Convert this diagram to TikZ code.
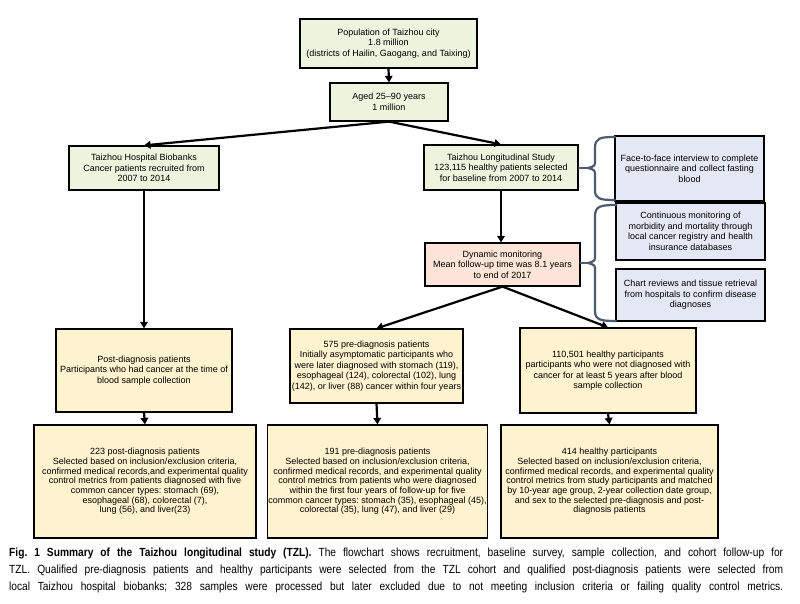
\documentclass[tikz,border=0pt]{standalone}
\usepackage{fontspec}
\setmainfont{Liberation Sans}
\newfontfamily\capfont[FakeStretch=0.865]{Liberation Sans}
\usetikzlibrary{arrows.meta}
\definecolor{gfill}{RGB}{236,244,221}
\definecolor{bfill}{RGB}{228,232,245}
\definecolor{pfill}{RGB}{252,229,215}
\definecolor{yfill}{RGB}{255,242,206}
\definecolor{bracecol}{RGB}{78,90,112}
\frenchspacing
\begin{document}
\begin{tikzpicture}[x=1pt,y=-1pt,
  box/.style={draw=black, line width=1.2pt, inner sep=1pt, align=center,
    font=\fontsize{9}{10.5}\selectfont},
  gbox/.style={box, fill=gfill},
  bbox/.style={box, fill=bfill},
  pbox/.style={box, fill=pfill},
  ybox/.style={box, fill=yfill},
  lbox/.style={box, fill=yfill, font=\fontsize{9}{9.7}\selectfont},
  arr/.style={line width=2.2pt, -{Triangle[length=6.5pt,width=7.5pt]}},
  bracepath/.style={draw=bracecol, line width=2.2pt, line cap=round, line join=round}]
\useasboundingbox (0,0) rectangle (800,603);
\fill[white] (0,0) rectangle (800,603);

\node[gbox, minimum width=177pt, minimum height=49pt] (pop) at (388.5,43.5)
  {Population of Taizhou city\\1.8 million\\(districts of Hailin, Gaogang, and Taixing)};
\node[gbox, minimum width=118pt, minimum height=38pt] (aged) at (389,102)
  {Aged 25--90 years\\1 million};
\node[gbox, minimum width=150pt, minimum height=44pt] (hosp) at (144,168)
  {Taizhou Hospital Biobanks\\Cancer patients recruited from\\2007 to 2014};
\node[gbox, minimum width=154pt, minimum height=45pt] (tzl) at (501,167.5)
  {Taizhou Longitudinal Study\\123,115 healthy patients selected\\for baseline from 2007 to 2014};
\node[bbox, minimum width=149pt, minimum height=65pt] (sideA) at (689.5,168.5)
  {Face-to-face interview to complete\\questionnaire and collect fasting\\blood};
\node[bbox, minimum width=149pt, minimum height=57pt] (sideB) at (690.5,231.5)
  {Continuous monitoring of\\morbidity and mortality through\\local cancer registry and health\\insurance databases};
\node[bbox, minimum width=149pt, minimum height=52pt] (sideC) at (690.5,295)
  {Chart reviews and tissue retrieval\\from hospitals to confirm disease\\diagnoses};
\node[pbox, minimum width=155pt, minimum height=43pt] (dyn) at (502.5,264.5)
  {Dynamic monitoring\\Mean follow-up time was 8.1 years\\to end of 2017};
\node[ybox, minimum width=176pt, minimum height=83pt] (post) at (144,370.5)
  {Post-diagnosis patients\\Participants who had cancer at the time of\\blood sample collection};
\node[ybox, minimum width=173pt, minimum height=74pt] (pre) at (376.5,366)
  {575 pre-diagnosis patients\\Initially asymptomatic participants who\\were later diagnosed with stomach (119),\\esophageal (124), colorectal (102), lung\\(142), or liver (88) cancer within four years};
\node[ybox, minimum width=176pt, minimum height=85pt] (healthy) at (608,370.5)
  {110,501 healthy participants\\participants who were not diagnosed with\\cancer for at least 5 years after blood\\sample collection};
\node[lbox, minimum width=222pt, minimum height=113pt] (b223) at (145,481.5)
  {223 post-diagnosis patients\\Selected based on inclusion/exclusion criteria,\\confirmed medical records,and experimental quality\\control metrics from patients diagnosed with five\\common cancer types: stomach (69),\\esophageal (68), colorectal (7),\\lung (56), and liver(23)};
\node[lbox, minimum width=219pt, minimum height=113pt] (b191) at (377.5,481.5)
  {191 pre-diagnosis patients\\Selected based on inclusion/exclusion criteria,\\confirmed medical records, and experimental quality\\control metrics from patients who were diagnosed\\within the first four years of follow-up for five\\common cancer types: stomach (35), esophageal (45),\\colorectal (35), lung (47), and liver (29)};
\node[lbox, minimum width=217pt, minimum height=113pt] (b414) at (609.5,481.5)
  {414 healthy participants\\Selected based on inclusion/exclusion criteria,\\confirmed medical records, and experimental quality\\control metrics from study participants and matched\\by 10-year age group, 2-year collection date group,\\and sex to the selected pre-diagnosis and post-\\diagnosis patients};

% arrows
\draw[arr] (pop.south) -- (aged.north);
\draw[arr] (aged.south) -- (hosp.north);
\draw[arr] (aged.south) -- (tzl.north);
\draw[arr] (tzl.south) -- (tzl.south |- dyn.north);
\draw[arr] (hosp.south) -- (post.north);
\draw[arr] (dyn.south) -- (pre.north);
\draw[arr] (dyn.south) -- (healthy.north);
\draw[arr] (post.south) -- (b223.north);
\draw[arr] (pre.south) -- (b191.north);
\draw[arr] (healthy.south) -- (b414.north);

% braces
\coordinate (tip1) at (588,168);
\coordinate (tip2) at (588,263);
\draw[bracepath] (615,137) .. controls (600,137) and (595,138) .. (595,148)
  -- (595,160) .. controls (595,166) .. (tip1) .. controls (595,170) .. (595,176)
  -- (595,190) .. controls (595,199) and (600,200) .. (615,200);
\draw[bracepath] (tzl.east |- tip1) -- (tip1);
\draw[bracepath] (616,205) .. controls (601,205) and (595,206) .. (595,216)
  -- (595,255) .. controls (595,261) .. (tip2) .. controls (595,265) .. (595,271)
  -- (595,311) .. controls (595,320) and (601,321) .. (616,321);
\draw[bracepath] (dyn.east |- tip2) -- (tip2);

% caption
\node[anchor=north west, inner sep=0pt, align=left,
  font=\capfont\fontsize{11.8}{17}\selectfont] (cap) at (9,548)
  {\makebox[774pt][s]{\textbf{Fig. 1 Summary of the Taizhou longitudinal study (TZL).} The flowchart shows recruitment, baseline survey, sample collection, and cohort follow-up for}\\
  \makebox[774pt][s]{TZL. Qualified pre-diagnosis patients and healthy participants were selected from the TZL cohort and qualified post-diagnosis patients were selected from}\\
  \makebox[774pt][s]{local Taizhou hospital biobanks; 328 samples were processed but later excluded due to not meeting inclusion criteria or failing quality control metrics.}};
\end{tikzpicture}
\end{document}
